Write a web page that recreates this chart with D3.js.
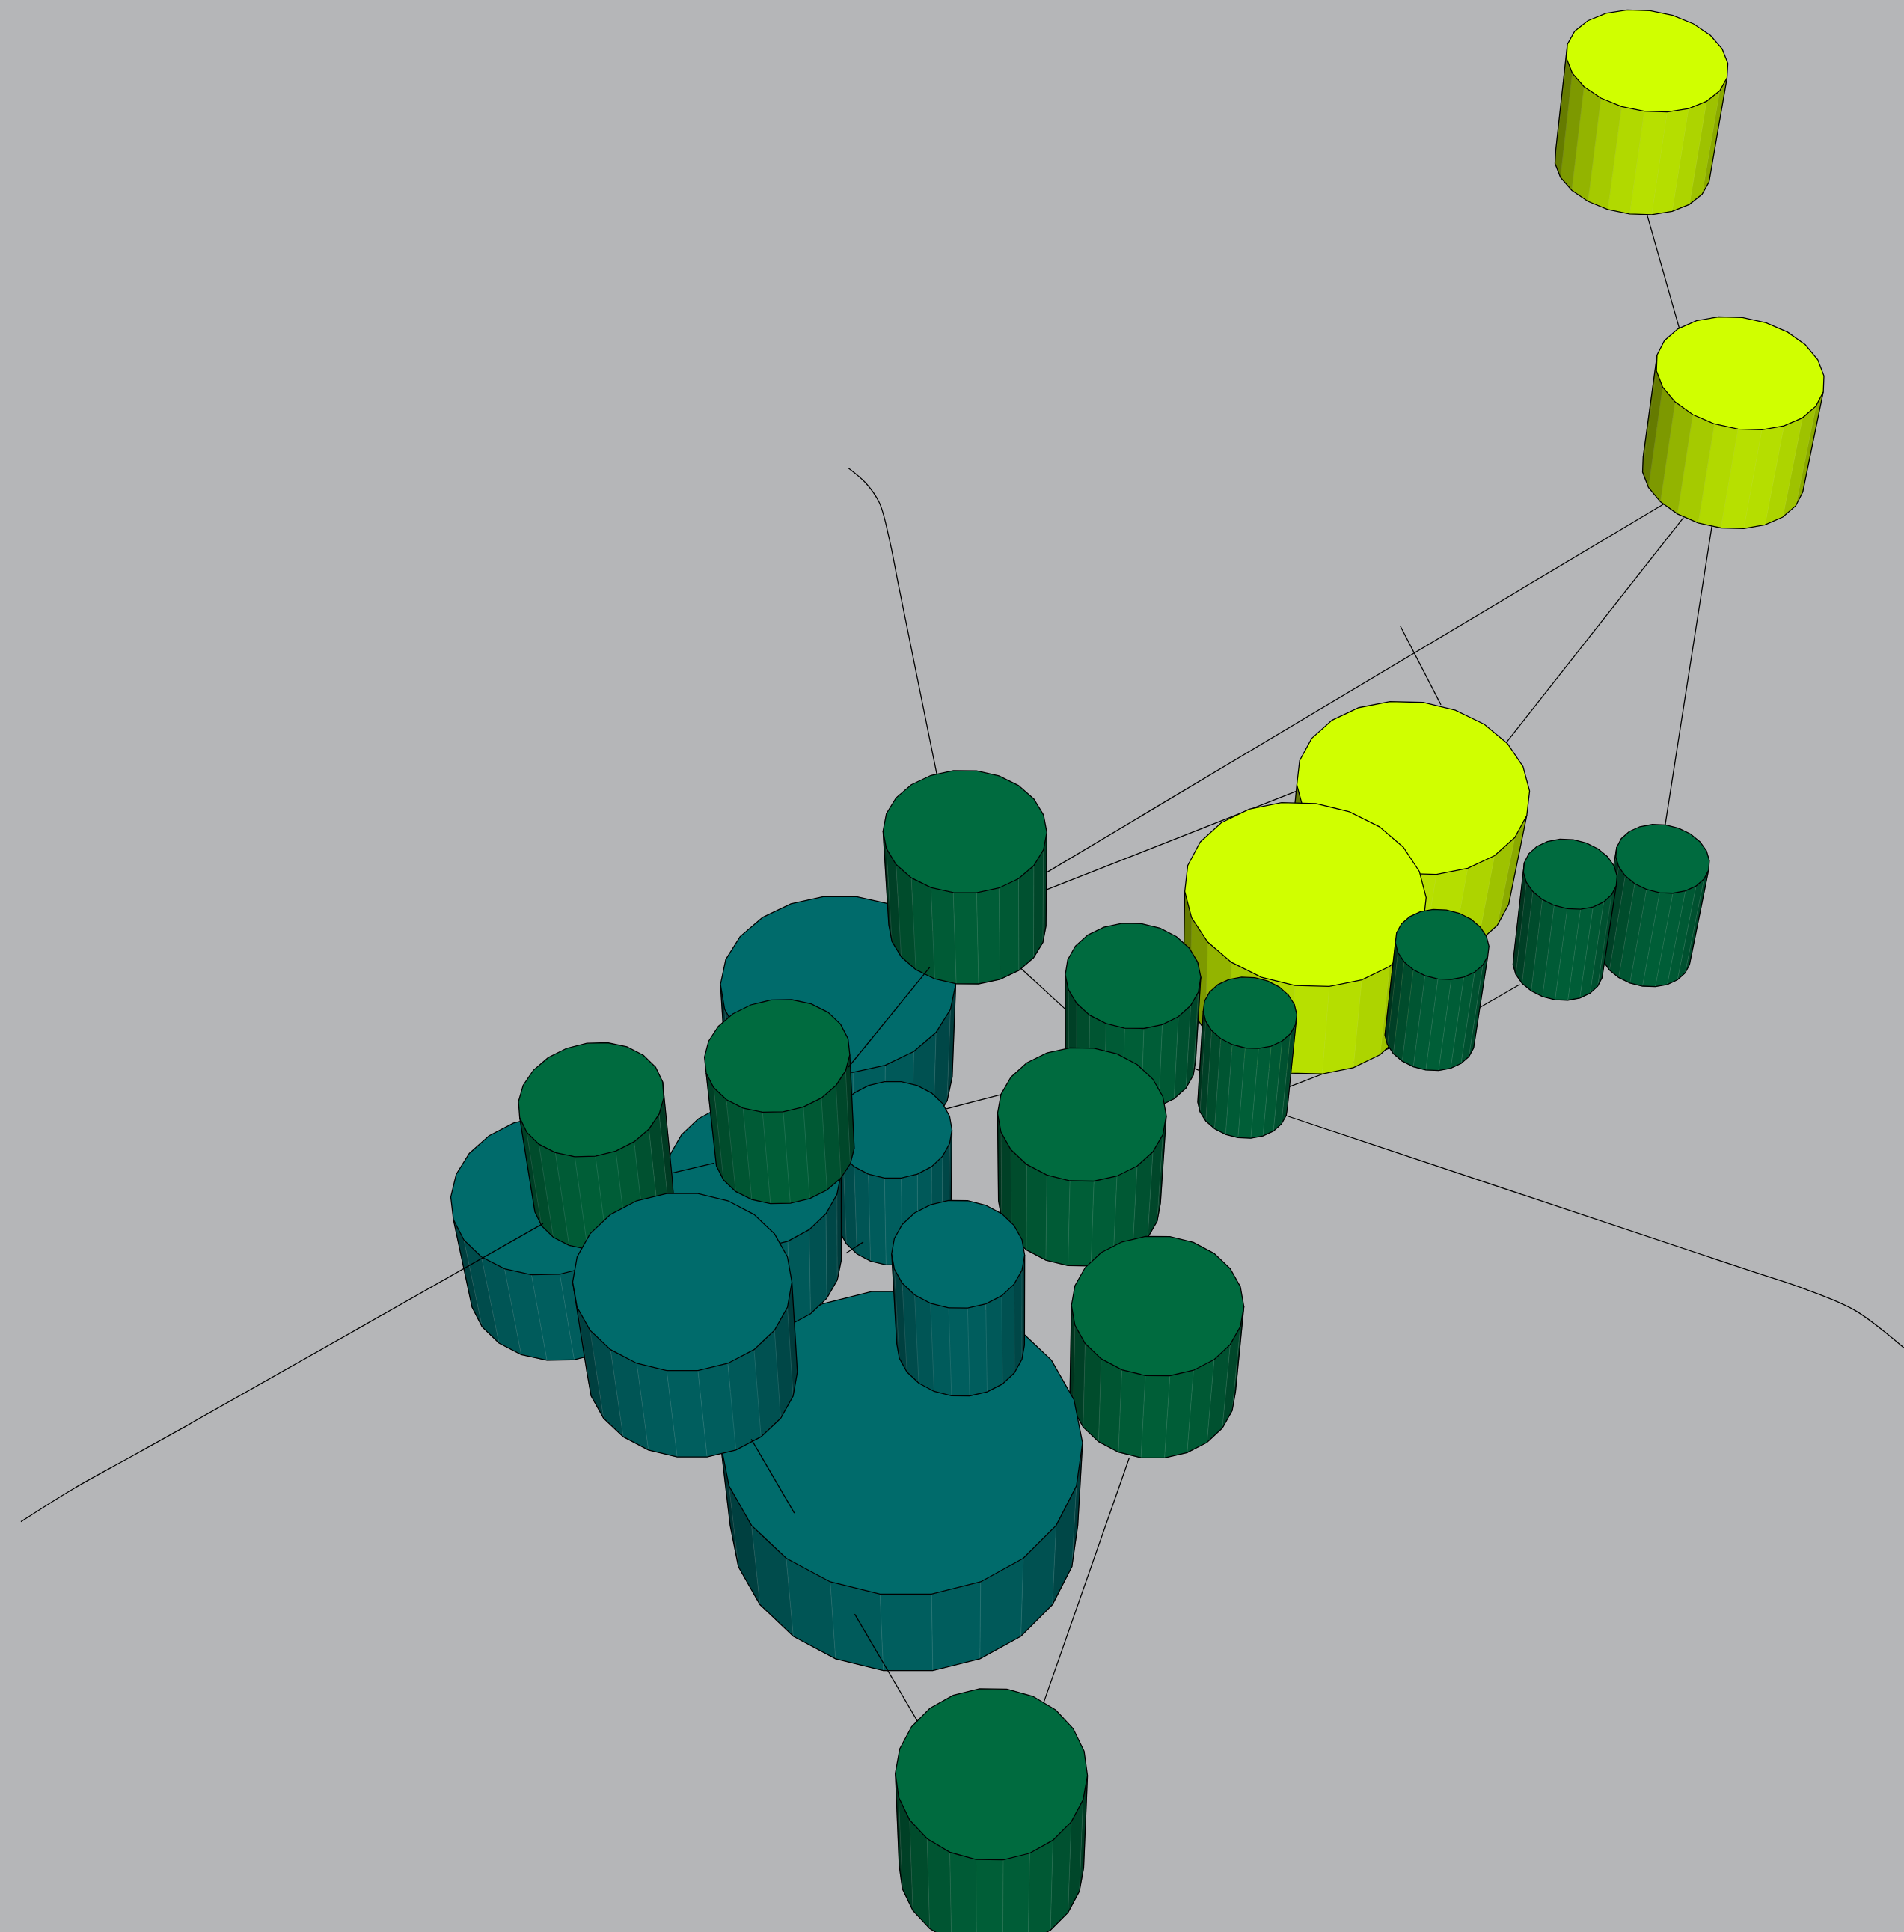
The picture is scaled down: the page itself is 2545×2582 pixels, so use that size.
<!DOCTYPE html>
<html>
<head>
<meta charset="utf-8">
<title>Cylinder network</title>
<script src="https://cdn.jsdelivr.net/npm/d3@7"></script>
<style>
  html, body { margin: 0; padding: 0; background: #b5b6b8; overflow: hidden; }
  svg { display: block; }
</style>
</head>
<body>
<div id="chart"></div>
<script>
  // node values, in paint order (back to front)
  var nodeGroup = ["y","y","y","y","g","g","g","t","g","g","g","g","g","t","t","t","t","g","g","t","t","g"];
  var nodeX     = [1337.5,1413,1147.5,1060,1350,1275,1171,680.5,783.5,920,1015,878.5,940,732,725,612,447,480,631,554,778,805];
  var nodeY     = [49.5,303,639.5,726,697,709.5,766.5,799,675,792,822,904.5,1060,1171,917,953,970,892.5,857,1040.5,1018,1440];
  var nodeRx    = [65.5,68,94.5,98,38,38,38,95.5,66.5,55,38,68.5,70,147,48,71,81,59,59,89,54,78];
  var nodeRy    = [41.5,46,70.5,75,28,28.5,28.5,72,50,43,29,54.5,57,124,39.5,60,65,46.5,46,72.5,44,70];
  var nodeSkewX = [7,8,5.5,5.5,3,3,2,-1.5,0,1,1.5,0,0,3.5,0,-2,-4,-5,-3.5,0,0,-1.5];
  var nodeSkewY = [2,2,2.5,2.5,1.5,1.5,1.5,0,0.5,1,1.5,1,0.5,0,0,-0.5,-1.5,-1.5,-1,0,0.5,1];
  var nodeDropX = [-12,-14,-11,-5,-14,-10,-10,1,2,-2,-6,-2,-4,2,1,3,12,10,6,8,2,0];
  var nodeDropY = [85,82,73,74,77,75,75,75,76,68,74,71,69,67,72,70,72,77,76,73,73,75];

  // links that pass under the cylinders
  var groundLinks = [
    [[689,380],[703,392],[714,408],[722,437],[730,477],[761,630]],
    [[1337,173],[1364,268]],
    [[1390,427],[1352,670]],
    [[1367,420],[1222,604]],
    [[1351,409],[850,708]],
    [[1053,642],[850,722]],
    [[1137,508],[1170,572]],
    [[1234,799],[1201,818]],
    [[1130,850],[1047,882]],
    [[1043,905],[1420,1031],[1465,1046],[1507,1064],[1546,1094]],
    [[828,785],[865,819]],
    [[967,866],[977,870]],
    [[768,900],[814,888]],
    [[917,1183],[847,1383]]
  ];

  // pieces of links that are seen on top of the cylinders
  var topLinks = [
    [[755,785],[689,866]],
    [[441,993],[150,1158],[105,1183],[60,1208],[17,1235]],
    [[610,1168],[645,1228]],
    [[694,1310],[745,1397]],
    [[546,952],[580,944]],
    [[687,1017],[701,1008]]
  ];

  var sides = 22;
  var taper = 0.96;   // the base is a little further from the camera
  var groupColors = {y: "#d0ff00", g: "#006b3f", t: "#006b6b"};

  var width = 2545, height = 2582;

  var x = d3.scaleLinear().domain([0, 1546]).range([0, width]);
  var y = d3.scaleLinear().domain([0, 1568]).range([0, height]);

  var svg = d3.select("#chart").append("svg")
    .attr("width", width)
    .attr("height", height);

  svg.append("rect")
    .attr("width", width)
    .attr("height", height)
    .attr("fill", "#b5b6b8");

  var line = d3.line()
    .x(function (d) { return x(d[0]); })
    .y(function (d) { return y(d[1]); });

  var curvedLine = d3.line()
    .x(function (d) { return x(d[0]); })
    .y(function (d) { return y(d[1]); })
    .curve(d3.curveCatmullRom.alpha(0.5));

  function addLinks(links, cls) {
    svg.append("g").attr("class", cls).selectAll("path")
      .data(links)
      .enter().append("path")
        .attr("d", curvedLine)
        .attr("fill", "none")
        .attr("stroke", "#000")
        .attr("stroke-width", 1.3);
  }

  // darken the side faces, brightest just right of the front
  function faceColor(base, angle) {
    var k = 0.46 + 0.42 * Math.max(0, Math.cos(angle - 85 * Math.PI / 180));
    var c = d3.rgb(base);
    return d3.rgb(c.r * k, c.g * k, c.b * k).formatHex();
  }

  function addCylinder(i) {
    var base = groupColors[nodeGroup[i]];
    var dx = nodeDropX[i], dy = nodeDropY[i];

    // ring of the top face and ring of the base, in picture units
    var ring = d3.range(sides).map(function (k) {
      var t = k * 2 * Math.PI / sides;
      return [
        nodeX[i] + nodeRx[i] * Math.cos(t) + nodeSkewX[i] * Math.sin(t),
        nodeY[i] + nodeSkewY[i] * Math.cos(t) + nodeRy[i] * Math.sin(t)
      ];
    });
    var foot = ring.map(function (p) {
      return [
        nodeX[i] + dx + (p[0] - nodeX[i]) * taper,
        nodeY[i] + dy + (p[1] - nodeY[i]) * taper
      ];
    });

    // keep only the faces turned towards the viewer
    var faces = [];
    ring.forEach(function (a, k) {
      var n = (k + 1) % sides;
      var b = ring[n];
      var mx = (foot[k][0] + foot[n][0] - a[0] - b[0]) / 2;
      var my = (foot[k][1] + foot[n][1] - a[1] - b[1]) / 2;
      if ((b[0] - a[0]) * my - (b[1] - a[1]) * mx < 0) {
        faces.push({k: k, a: a, b: b, c: foot[n], d: foot[k], angle: (k + 0.5) * 2 * Math.PI / sides});
      }
    });

    var g = svg.append("g").attr("class", "cylinder-" + i);

    g.selectAll("path.face")
      .data(faces)
      .enter().append("path")
        .attr("class", "face")
        .attr("d", function (f) { return line([f.a, f.b, f.c, f.d]) + "Z"; })
        .attr("fill", function (f) { return faceColor(base, f.angle); })
        .attr("stroke", function (f) { return faceColor(base, f.angle); })
        .attr("stroke-width", 0.5);

    // outline of the side wall: the ordered faces may wrap past vertex 0
    var start = faces.findIndex(function (f) {
      return !faces.some(function (o) { return (o.k + 1) % sides === f.k; });
    });
    var ordered = faces.slice(start).concat(faces.slice(0, start));
    var last = ordered[ordered.length - 1];

    // faint seams between neighbouring faces
    g.selectAll("path.seam")
      .data(ordered.slice(1))
      .enter().append("path")
        .attr("class", "seam")
        .attr("d", function (f) { return line([f.a, f.d]); })
        .attr("stroke", "#fff")
        .attr("stroke-opacity", nodeGroup[i] === "y" ? 0.05 : 0.14)
        .attr("stroke-width", 0.8);

    var outline = [ordered[0].a].concat(
      ordered.map(function (f) { return f.d; }),
      [last.c, last.b]
    );

    g.append("path")
      .attr("class", "wall")
      .attr("d", line(outline))
      .attr("fill", "none")
      .attr("stroke", "#000")
      .attr("stroke-width", 1.3);

    g.append("path")
      .attr("class", "top")
      .attr("d", line(ring) + "Z")
      .attr("fill", base)
      .attr("stroke", "#000")
      .attr("stroke-width", 1.3);
  }

  addLinks(groundLinks, "ground-links");
  nodeX.forEach(function (d, i) { addCylinder(i); });
  addLinks(topLinks, "top-links");
</script>
</body>
</html>
